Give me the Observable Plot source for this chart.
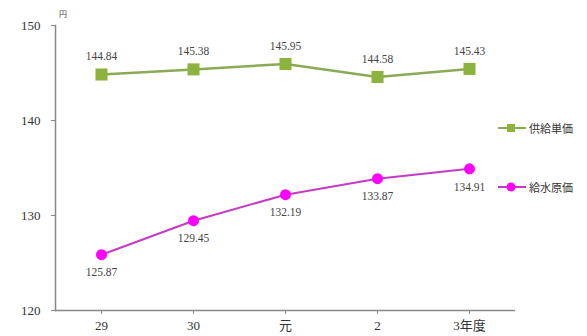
<!DOCTYPE html>
<html>
<head>
<meta charset="utf-8">
<script src="https://cdn.jsdelivr.net/npm/d3@7"></script>
<script src="https://cdn.jsdelivr.net/npm/@observablehq/plot@0.6"></script>
<style>
  html, body { margin: 0; padding: 0; background: #fff; }
  #wrap { position: relative; width: 587px; height: 336px; }
  .legend { position: absolute; left: 497px; font-size: 11px; color: #333; display: flex; align-items: center; font-family: "Noto Sans CJK JP", sans-serif; }
  .legend svg { margin-right: 2px; }
  .unit { position: absolute; left: 59px; top: 8px; font-size: 8px; color: #444; font-family: "Noto Sans CJK JP", sans-serif; }
</style>
</head>
<body>
<div id="wrap"></div>
<script>
// Fiscal years (Heisei 29, 30, Reiwa 元, 2, 3)
const years = ["29", "30", "元", "2", "3年度"];
// Supply unit price (円 per m³)
const supplyPrice = [144.84, 145.38, 145.95, 144.58, 145.43];
// Water supply cost (円 per m³)
const supplyCost = [125.87, 129.45, 132.19, 133.87, 134.91];
const yTicks = [120, 130, 140, 150];

const green = "#8db33f";
const greenLine = "#8aab55";
const magenta = "#ff00ff";
const magentaLine = "#c43cc4";
const serif = "Liberation Serif, Noto Sans CJK JP, serif";

const supply = years.map((y, i) => ({year: y, value: supplyPrice[i]}));
const cost = years.map((y, i) => ({year: y, value: supplyCost[i]}));

const chart = Plot.plot({
  width: 587,
  height: 336,
  marginLeft: 55,
  marginRight: 72,
  marginTop: 25,
  marginBottom: 26,
  style: {fontSize: "12px", color: "#333", background: "transparent"},
  x: {type: "point", domain: years, padding: 0.5},
  y: {domain: [120, 150]},
  marks: [
    Plot.frame({anchor: "left", stroke: "#888", strokeWidth: 1.5}),
    Plot.ruleY([120], {stroke: "#888", strokeWidth: 1.5}),
    Plot.axisY({ticks: yTicks, tickSize: 4, tickPadding: 11, label: null, stroke: "#888", fontSize: 13, fontFamily: serif}),
    Plot.axisX({tickSize: 4, tickPadding: 6, label: null, stroke: "#888", fontSize: 13, fontFamily: serif}),
    Plot.line(supply, {x: "year", y: "value", stroke: greenLine, strokeWidth: 2.5}),
    Plot.dot(supply, {x: "year", y: "value", symbol: "square", r: 6.8, fill: green, stroke: "none"}),
    Plot.text(supply, {x: "year", y: "value", text: d => d.value.toFixed(2), dy: -18, fontSize: 11.5, fill: "#444", fontFamily: serif}),
    Plot.line(cost, {x: "year", y: "value", stroke: magentaLine, strokeWidth: 2}),
    Plot.dot(cost, {x: "year", y: "value", r: 5.5, fill: magenta, stroke: "none"}),
    Plot.text(cost, {x: "year", y: "value", text: d => d.value.toFixed(2), dy: 18, fontSize: 11.5, fill: "#444", fontFamily: serif})
  ]
});

const wrap = document.getElementById("wrap");
wrap.appendChild(chart);

const unit = document.createElement("div");
unit.className = "unit";
unit.textContent = "円";
wrap.appendChild(unit);

// Legend entries drawn beside the plot area
const legendItems = [
  {label: "供給単価", line: greenLine, fill: green, shape: "square", top: 120},
  {label: "給水原価", line: magentaLine, fill: magenta, shape: "circle", top: 179}
];
for (const item of legendItems) {
  const div = document.createElement("div");
  div.className = "legend";
  div.style.top = item.top + "px";
  const mark = item.shape === "square"
    ? `<rect x="10" y="4" width="8" height="8" fill="${item.fill}"/>`
    : `<circle cx="14" cy="8" r="4.5" fill="${item.fill}"/>`;
  div.innerHTML = `<svg width="30" height="16"><line x1="1" x2="29" y1="8" y2="8" stroke="${item.line}" stroke-width="2"/>${mark}</svg><span>${item.label}</span>`;
  wrap.appendChild(div);
}
</script>
</body>
</html>
